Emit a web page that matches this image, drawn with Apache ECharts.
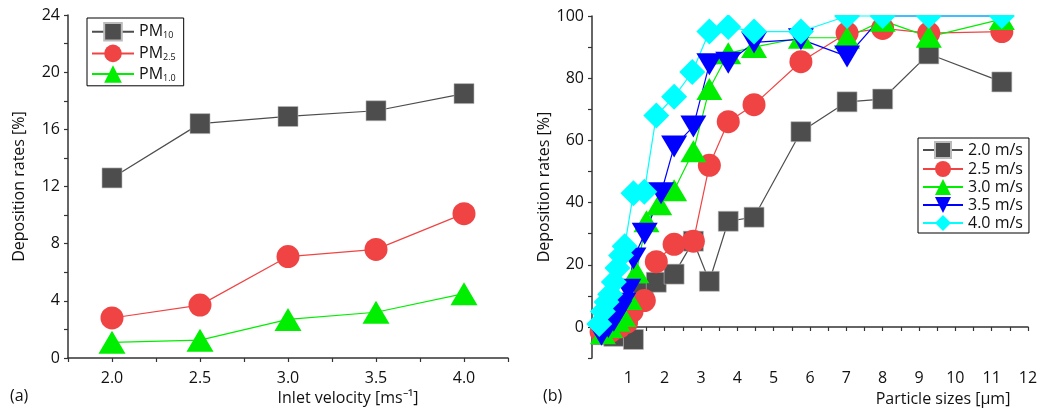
<!DOCTYPE html>
<html>
<head>
<meta charset="utf-8">
<script src="https://cdn.jsdelivr.net/npm/echarts@6/dist/echarts.min.js"></script>
<style>
  html, body { margin: 0; padding: 0; background: #fff; }
  #main { width: 1043px; height: 412px; }
</style>
</head>
<body>
<div id="main"></div>
<script>
// (a) deposition vs inlet velocity
var velocities = [2.0, 2.5, 3.0, 3.5, 4.0]
var pm10 = [12.6, 16.4, 16.9, 17.3, 18.5]
var pm25 = [2.8, 3.7, 7.1, 7.6, 10.1]
var pm1 = [1.1, 1.25, 2.7, 3.2, 4.5]

// (b) deposition vs particle size, one pair of arrays per inlet velocity
var size20 = [0.3, 0.6, 1.14, 1.41, 1.77, 2.26, 2.79, 3.23, 3.75, 4.46, 5.75, 7.02, 8.0, 9.27, 11.28]
var dep20 = [-2.5, -3, -4, 11, 14.4, 17, 27.6, 14.7, 34, 35.3, 62.8, 72.4, 73.3, 87.8, 78.8]
var size25 = [0.25, 0.5, 0.75, 0.95, 1.1, 1.44, 1.77, 2.26, 2.79, 3.23, 3.75, 4.46, 5.75, 7.02, 8.0, 9.27, 11.28]
var dep25 = [-1.5, -1.5, 0, 1.5, 5, 8.5, 21, 26.6, 27.6, 52, 66, 71.5, 85.3, 94.5, 96, 94.5, 95]
var size30 = [0.3, 0.5, 0.7, 0.86, 1.03, 1.22, 1.5, 1.85, 2.26, 2.79, 3.23, 3.75, 4.46, 5.75, 7.02, 8.0, 9.27, 11.28]
var dep30 = [-2, 0, 2, 3.5, 9, 17.6, 34, 39.5, 44, 56.5, 76.5, 88, 90, 93, 93, 98.5, 93.3, 99]
var size35 = [0.26, 0.45, 0.6, 0.75, 0.86, 1.0, 1.14, 1.45, 1.9, 2.26, 2.79, 3.23, 3.75, 4.46, 5.75, 7.02, 8.0, 9.27, 11.28]
var dep35 = [-2.5, 0, 2, 5, 7.5, 12, 22, 30, 43, 58, 64.5, 84.5, 85, 91.5, 92.5, 87, 100, 100, 100]
var size40 = [0.2, 0.3, 0.4, 0.5, 0.6, 0.7, 0.8, 0.9, 1.14, 1.44, 1.77, 2.26, 2.76, 3.23, 3.75, 4.46, 5.75, 7.02, 8.0, 9.27, 11.28]
var dep40 = [1, 5, 8, 10.5, 14.5, 19, 23, 26, 43, 43.5, 68, 74, 82, 95, 96.5, 95, 95, 100, 100, 100, 100]

var FONT = 'Open Sans'
var GRAY = '#4d4d4d', RED = '#f04444', GREEN = '#00ee00', BLUE = '#0000ff', CYAN = '#00ffff'

function pairs (xs, ys) {
  return xs.map(function (x, i) { return [x, ys[i]] })
}

var axisCommon = {
  axisLine: { lineStyle: { color: '#333', width: 1.5 } },
  axisTick: { show: true, length: 4, lineStyle: { color: '#333', width: 1.2 } },
  axisLabel: { color: '#111', fontSize: 16, fontFamily: FONT },
  splitLine: { show: false },
  nameTextStyle: { color: '#111', fontSize: 16, fontFamily: FONT }
}

function lineSeries (name, data, xi, color, symbol, size, rotate) {
  return {
    name: name, type: 'line', xAxisIndex: xi, yAxisIndex: xi,
    data: data, symbol: symbol, symbolSize: size, symbolRotate: rotate || 0,
    clip: false, animation: false,
    lineStyle: { color: color, width: 1.2 },
    itemStyle: { color: color, borderColor: symbol === 'rect' ? '#bbb' : color, borderWidth: symbol === 'rect' ? 0.6 : 0 }
  }
}

var option = {
  backgroundColor: '#fff',
  animation: false,
  textStyle: { fontFamily: FONT },
  grid: [
    { left: 68, top: 15, width: 440, height: 343 },
    { left: 592, top: 16, width: 436, height: 343 }
  ],
  xAxis: [
    Object.assign({}, axisCommon, {
      type: 'value', gridIndex: 0, min: 1.75, max: 4.25, interval: 0.25,
      name: 'Inlet velocity [ms\u207B\u00B9]', nameLocation: 'middle', nameGap: 31,
      nameTextStyle: Object.assign({}, axisCommon.nameTextStyle, { padding: [0, 0, 0, 120] }),
      axisLabel: Object.assign({}, axisCommon.axisLabel, {
        margin: 12,
        formatter: function (v) { return Math.round(v * 4) % 2 === 0 ? v.toFixed(1) : '' }
      })
    }),
    Object.assign({}, axisCommon, {
      type: 'value', gridIndex: 1, min: 0, max: 12, interval: 0.5,
      name: 'Particle sizes [\u03BCm]', nameLocation: 'middle', nameGap: 31,
      nameTextStyle: Object.assign({}, axisCommon.nameTextStyle, { padding: [0, 0, 0, 266] }),
      axisLabel: Object.assign({}, axisCommon.axisLabel, {
        margin: 12,
        formatter: function (v) { return (v > 0 && v % 1 === 0) ? String(v) : '' }
      })
    })
  ],
  yAxis: [
    Object.assign({}, axisCommon, {
      type: 'value', gridIndex: 0, min: 0, max: 24, interval: 2,
      name: 'Deposition rates [%]', nameLocation: 'middle', nameGap: 41,
      axisLabel: Object.assign({}, axisCommon.axisLabel, {
        margin: 8,
        formatter: function (v) { return v % 4 === 0 ? String(v) : '' }
      })
    }),
    Object.assign({}, axisCommon, {
      type: 'value', gridIndex: 1, min: -10, max: 100, interval: 10,
      name: 'Deposition rates [%]', nameLocation: 'middle', nameGap: 40,
      axisLabel: Object.assign({}, axisCommon.axisLabel, {
        margin: 8,
        formatter: function (v) { return (v >= 0 && v % 20 === 0) ? String(v) : '' }
      })
    })
  ],
  legend: [
    {
      data: ['PM10', 'PM2.5', 'PM1.0'],
      orient: 'vertical', left: 87, top: 18,
      itemWidth: 42, itemHeight: 22, itemGap: 3,
      borderColor: '#000', borderWidth: 1, padding: [4, 8, 3, 4],
      formatter: function (name) { return 'PM{s|' + name.slice(2) + '}' },
      textStyle: {
        color: '#111', fontSize: 16, fontFamily: FONT,
        rich: { s: { fontSize: 9, fontFamily: FONT, color: '#111', padding: [8, 0, 0, 0] } }
      }
    },
    {
      data: ['2.0 m/s', '2.5 m/s', '3.0 m/s', '3.5 m/s', '4.0 m/s'],
      orient: 'vertical', left: 918, top: 138,
      itemWidth: 40, itemHeight: 20, itemGap: 2,
      borderColor: '#000', borderWidth: 1, padding: [3, 6, 2, 4],
      textStyle: { color: '#111', fontSize: 16, fontFamily: FONT }
    }
  ],
  graphic: [
    { type: 'text', left: 10, top: 388, style: { text: '(a)', font: '16px "Open Sans"', fill: '#111' } },
    { type: 'text', left: 543, top: 388, style: { text: '(b)', font: '16px "Open Sans"', fill: '#111' } },
    // mask above plot (b) so the markers at 100 % are cut at the frame like in the original
    { type: 'rect', z: 100, shape: { x: 595, y: 0, width: 448, height: 15 }, style: { fill: '#fff' } }
  ],
  series: [
    lineSeries('PM10', pairs(velocities, pm10), 0, GRAY, 'rect', 20),
    lineSeries('PM2.5', pairs(velocities, pm25), 0, RED, 'circle', 23),
    lineSeries('PM1.0', pairs(velocities, pm1), 0, GREEN, 'triangle', [27, 23]),
    lineSeries('2.0 m/s', pairs(size20, dep20), 1, GRAY, 'rect', 20),
    lineSeries('2.5 m/s', pairs(size25, dep25), 1, RED, 'circle', 23),
    lineSeries('3.0 m/s', pairs(size30, dep30), 1, GREEN, 'triangle', [26, 22]),
    lineSeries('3.5 m/s', pairs(size35, dep35), 1, BLUE, 'triangle', [26, 22], 180),
    lineSeries('4.0 m/s', pairs(size40, dep40), 1, CYAN, 'diamond', [26, 26])
  ]
}

var chart = echarts.init(document.getElementById('main'))
chart.setOption(option)
</script>
</body>
</html>
